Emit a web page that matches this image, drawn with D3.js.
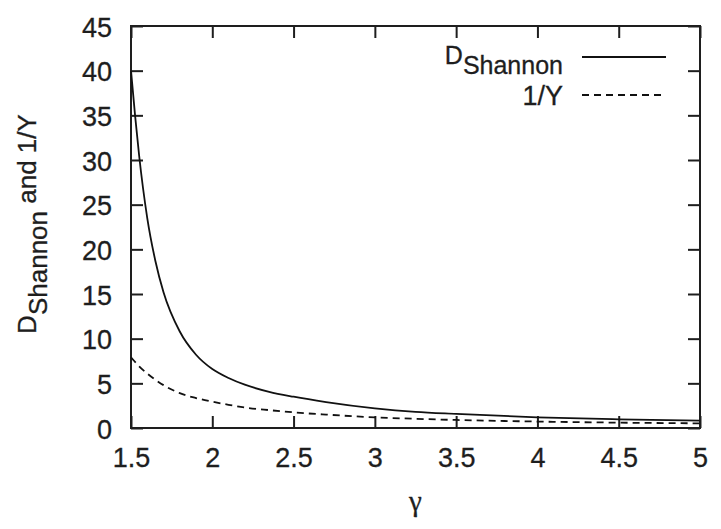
<!DOCTYPE html>
<html>
<head>
<meta charset="utf-8">
<script src="https://cdn.jsdelivr.net/npm/d3@7"></script>
<style>
  body { margin: 0; background: #fff; }
  svg text { font-family: "Liberation Sans", Arial, sans-serif; fill: #1e1e1e; stroke: #1e1e1e; stroke-width: 0.3; }
</style>
</head>
<body>
<div id="chart"></div>
<script>
// values
var gammaValues = [1.5, 1.525, 1.55, 1.6, 1.65, 1.7, 1.8, 1.9, 2.0, 2.1, 2.2, 2.35, 2.5, 2.7, 3.0, 3.25, 3.5, 4.0, 4.5, 5.0];
var shannonValues = [40, 35, 30.5, 23.5, 18.7, 15.2, 10.8, 8.2, 6.6, 5.6, 4.85, 4.05, 3.5, 2.9, 2.2, 1.8, 1.57, 1.19, 0.97, 0.82];
var invYValues = [7.9, 7.4, 6.9, 6.1, 5.4, 4.8, 3.9, 3.35, 2.95, 2.6, 2.3, 2.0, 1.75, 1.5, 1.19, 1.03, 0.9, 0.72, 0.6, 0.52];
var xTicks = [1.5, 2, 2.5, 3, 3.5, 4, 4.5, 5];
var yTicks = [0, 5, 10, 15, 20, 25, 30, 35, 40, 45];

var W = 721, H = 529;
var margin = { top: 26, right: 21, bottom: 101, left: 131 };
var width = W - margin.left - margin.right,
    height = H - margin.top - margin.bottom;

var svg = d3.select("#chart").append("svg")
    .attr("width", W)
    .attr("height", H);

var g = svg.append("g")
    .attr("transform", "translate(" + margin.left + "," + margin.top + ")");

var x = d3.scaleLinear().domain([1.5, 5]).range([0, width]);
var y = d3.scaleLinear().domain([0, 45]).range([height, 0]);

var fmt = function(d) { return String(d); };

// axes, ticks pointing inward
var xAxis = g.append("g")
    .attr("transform", "translate(0," + height + ")")
    .call(d3.axisBottom(x).tickValues(xTicks).tickFormat(fmt).tickSize(-12).tickPadding(20));
var yAxis = g.append("g")
    .call(d3.axisLeft(y).tickValues(yTicks).tickFormat(fmt).tickSize(-12).tickPadding(19));
var xTop = g.append("g")
    .call(d3.axisTop(x).tickValues(xTicks).tickFormat("").tickSize(-12));
var yRight = g.append("g")
    .attr("transform", "translate(" + width + ",0)")
    .call(d3.axisRight(y).tickValues(yTicks).tickFormat("").tickSize(-12));

[xAxis, yAxis, xTop, yRight].forEach(function(a) {
    a.select(".domain").remove();
    a.selectAll(".tick line").attr("stroke", "#1e1e1e").attr("stroke-width", 2);
    a.selectAll(".tick text").style("font-size", "27px").attr("fill", "#1e1e1e");
});
yAxis.selectAll(".tick text").attr("dy", "0.38em");

g.append("rect")
    .attr("width", width)
    .attr("height", height)
    .attr("fill", "none")
    .attr("stroke", "#1e1e1e")
    .attr("stroke-width", 2);

// curves
var line = d3.line()
    .x(function(d) { return x(d[0]); })
    .y(function(d) { return y(d[1]); })
    .curve(d3.curveMonotoneX);

g.append("path")
    .datum(d3.zip(gammaValues, shannonValues))
    .attr("fill", "none")
    .attr("stroke", "#111")
    .attr("stroke-width", 1.8)
    .attr("d", line);

g.append("path")
    .datum(d3.zip(gammaValues, invYValues))
    .attr("fill", "none")
    .attr("stroke", "#111")
    .attr("stroke-width", 1.8)
    .attr("stroke-dasharray", "7,5")
    .attr("d", line);

// legend
var legend = g.append("g").attr("transform", "translate(" + (width - 137) + ",0)");
var rows = [{ y: 31, dash: null }, { y: 69, dash: "7,5" }];

var t1 = legend.append("text")
    .attr("x", 0).attr("y", rows[0].y + 7)
    .attr("text-anchor", "end")
    .style("font-size", "25px");
t1.append("tspan").text("D");
t1.append("tspan").attr("dy", 10).text("Shannon");

legend.append("text")
    .attr("x", 0).attr("y", rows[1].y + 10)
    .attr("text-anchor", "end")
    .style("font-size", "27px")
    .text("1/Y");

rows.forEach(function(r) {
    legend.append("line")
        .attr("x1", 19).attr("x2", 103)
        .attr("y1", r.y).attr("y2", r.y)
        .attr("stroke", "#111")
        .attr("stroke-width", 1.8)
        .attr("stroke-dasharray", r.dash);
});

// axis titles
svg.append("text")
    .attr("x", margin.left + width / 2)
    .attr("y", 511)
    .attr("text-anchor", "middle")
    .style("font-size", "29px")
    .style("font-family", "'Liberation Serif', serif")
    .text("γ");

var yl = svg.append("text")
    .attr("transform", "translate(36,224) rotate(-90)")
    .attr("text-anchor", "middle")
    .style("font-size", "26px");
yl.append("tspan").text("D");
yl.append("tspan").attr("dy", 11).text("Shannon");
yl.append("tspan").attr("dy", -11).text(" and 1/Y");
</script>
</body>
</html>
